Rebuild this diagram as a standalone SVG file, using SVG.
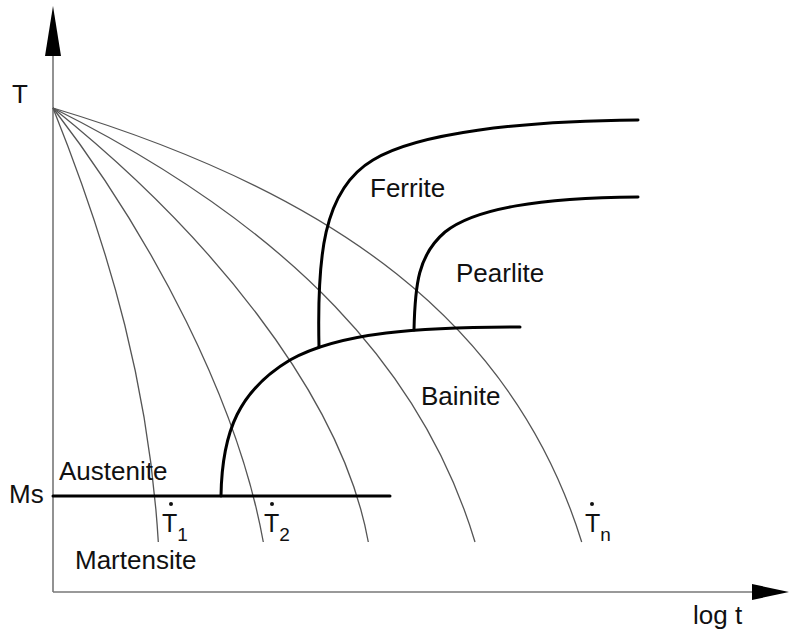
<svg xmlns="http://www.w3.org/2000/svg" width="790" height="632" viewBox="0 0 790 632">
<style>
text{font-family:"Liberation Sans",Arial,sans-serif;font-size:26px;fill:#111}
.rate{font-size:25px}
.sub{font-size:19px}
.axis{stroke:#777;stroke-width:1.6;fill:none}
.cool{stroke:#555;stroke-width:1.3;fill:none}
.phase{stroke:#000;stroke-width:3;fill:none;stroke-linecap:round}
.head{fill:#000}
</style>
<rect width="790" height="632" fill="#fff"/>
<g id="axes">
<line class="axis" x1="53" y1="50" x2="53" y2="592"/>
<line class="axis" x1="53" y1="592" x2="755" y2="592"/>
<polygon class="head" points="53,6 45,56 61,56"/>
<polygon class="head" points="789,592 752,584 752,600"/>
</g>
<g id="connectors">
<path class="cool" d="M53,108 C113,258 149.3,392 158.3,542"/>
<path class="cool" d="M53,108 C153,238 238.1,402 263.3,542"/>
<path class="cool" d="M53,108 C203,228 341.3,392 368.3,542"/>
<path class="cool" d="M53,108 C293,228 424,372 475,542"/>
<path class="cool" d="M53,108 C333,192 513.5,322 581.7,542"/>
</g>
<g id="ms-line"><line class="phase" x1="53" y1="496" x2="390" y2="496"/></g>
<g id="ferrite-curve"><path class="phase" d="M319,347 C317,260 322,190 373,160 C417,133 520,121 638,120"/></g>
<g id="pearlite-curve"><path class="phase" d="M414,330 C415,285 418,255 445,232 C475,208 540,198 638,197"/></g>
<g id="bainite-curve"><path class="phase" d="M221,496 C222,430 240,390 290,360 C340,332 420,327 520,327"/></g>
<g id="labels">
<text x="12" y="103">T</text>
<text x="9" y="503">Ms</text>
<text x="59" y="480">Austenite</text>
<text x="75" y="569">Martensite</text>
<text x="370" y="197">Ferrite</text>
<text x="456" y="282">Pearlite</text>
<text x="421" y="405">Bainite</text>
<text x="693" y="624">log t</text>
</g>
<g id="rate-T1">
<circle cx="171" cy="504" r="2" fill="#111"/>
<text class="rate" x="162" y="531.5">T<tspan class="sub" dy="9">1</tspan></text>
</g>
<g id="rate-T2">
<circle cx="272" cy="504" r="2" fill="#111"/>
<text class="rate" x="264" y="531.5">T<tspan class="sub" dy="9">2</tspan></text>
</g>
<g id="rate-Tn">
<circle cx="592" cy="504" r="2" fill="#111"/>
<text class="rate" x="585" y="531.5">T<tspan class="sub" dy="9">n</tspan></text>
</g>
</svg>
